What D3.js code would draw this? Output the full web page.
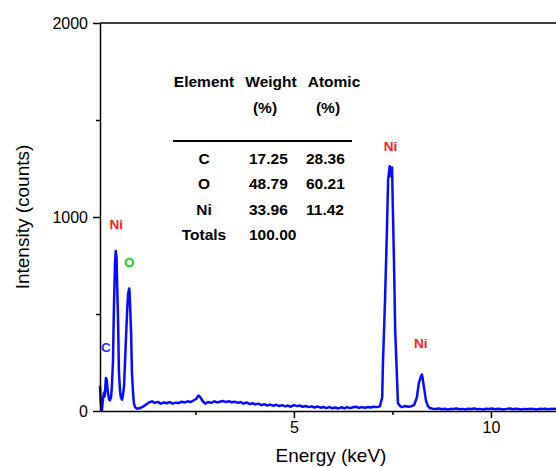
<!DOCTYPE html>
<html>
<head>
<meta charset="utf-8">
<script src="https://cdn.jsdelivr.net/npm/d3@7"></script>
<style>
  body { margin: 0; background: #fff; }
  svg { display: block; font-family: "Liberation Sans", Arial, sans-serif; }
</style>
</head>
<body>
<svg></svg>
<script>
const w = 556;
const h = 468;

// spectrum (keV, counts)
const energy = [
  0.08, 0.10, 0.13, 0.16, 0.18, 0.20, 0.23, 0.25, 0.28, 0.31, 0.33, 0.36, 0.38, 0.41, 0.43, 0.46,
  0.48, 0.50, 0.51, 0.54, 0.56, 0.59, 0.61, 0.64, 0.66, 0.69, 0.71, 0.74, 0.77, 0.79, 0.82, 0.83,
  0.84, 0.87, 0.89, 0.92, 0.94, 0.97, 1.02, 1.10, 1.17, 1.25, 1.32, 1.40, 1.47, 1.55, 1.62, 1.70,
  1.77, 1.85, 1.92, 2.00, 2.08, 2.15, 2.23, 2.30, 2.38, 2.45, 2.52, 2.58, 2.63, 2.68, 2.75, 2.82,
  2.90, 2.98, 3.05, 3.12, 3.20, 3.28, 3.35, 3.42, 3.50, 3.58, 3.65, 3.72, 3.80, 3.88, 3.95, 4.02,
  4.10, 4.18, 4.25, 4.32, 4.40, 4.48, 4.55, 4.62, 4.70, 4.78, 4.85, 4.92, 5.00, 5.08, 5.15, 5.22,
  5.30, 5.38, 5.45, 5.52, 5.60, 5.68, 5.75, 5.82, 5.90, 5.98, 6.05, 6.12, 6.20, 6.28, 6.35, 6.42,
  6.50, 6.58, 6.65, 6.72, 6.80, 6.88, 6.95, 7.02, 7.10, 7.18, 7.24, 7.26, 7.31, 7.36, 7.39, 7.43,
  7.46, 7.49, 7.51, 7.54, 7.57, 7.62, 7.64, 7.70, 7.75, 7.82, 7.90, 7.98, 8.05, 8.12, 8.17, 8.23,
  8.25, 8.28, 8.35, 8.40, 8.45, 8.52, 8.60, 8.68, 8.75, 8.82, 8.90, 8.98, 9.05, 9.12, 9.20, 9.28,
  9.35, 9.42, 9.50, 9.58, 9.65, 9.72, 9.80, 9.88, 9.95, 10.02, 10.10, 10.18, 10.25, 10.32, 10.40, 10.48,
  10.55, 10.62, 10.70, 10.78, 10.85, 10.92, 11.00, 11.08, 11.15, 11.22, 11.30, 11.38, 11.45, 11.52, 11.60, 11.68
];
const counts = [
  130, 40, 5, 70, 95, 75, 170, 160, 95, 60, 55, 72, 120, 260, 500, 760,
  825, 790, 700, 450, 200, 100, 70, 58, 78, 130, 230, 380, 520, 600, 632, 615,
  560, 400, 200, 90, 40, 20, 12, 15, 22, 34, 44, 50, 42, 47, 38, 44,
  40, 46, 38, 43, 41, 48, 44, 50, 46, 54, 62, 80, 70, 52, 38, 46,
  42, 50, 44, 48, 52, 46, 50, 45, 48, 42, 46, 38, 44, 36, 40, 34,
  38, 30, 35, 28, 33, 27, 32, 26, 30, 24, 28, 22, 30, 25, 28, 22,
  26, 20, 24, 18, 23, 17, 21, 15, 20, 14, 18, 13, 19, 14, 20, 15,
  19, 22, 16, 20, 17, 21, 18, 22, 20, 24, 70, 250, 560, 930, 1190, 1262,
  1210, 1255, 1050, 760, 415, 145, 40, 24, 20, 26, 22, 25, 30, 70, 145, 182,
  188, 150, 55, 25, 15, 12, 10, 13, 9, 12, 8, 11, 10, 13, 9, 11,
  8, 12, 10, 13, 9, 11, 8, 12, 10, 13, 9, 12, 10, 8, 11, 13,
  9, 12, 10, 8, 11, 9, 12, 10, 8, 11, 10, 12, 9, 11, 10, 12
];

// peak labels
const peakNames = ['C', 'Ni', 'O', 'Ni', 'Ni'];
const peakEnergy = [0.23, 0.49, 0.82, 7.45, 8.22];
const peakCount = [305, 938, 742, 1340, 325];
const peakColors = ['#2b2bff', '#ff1a1a', '#22cc22', '#ff1a1a', '#ff1a1a'];

// composition table
const elements = ['C', 'O', 'Ni', 'Totals'];
const weightPct = ['17.25', '48.79', '33.96', '100.00'];
const atomicPct = ['28.36', '60.21', '11.42', ''];

const xMajor = [5, 10];
const xMinor = [2.5, 7.5];
const yMajor = [0, 1000, 2000];
const yMinor = [500, 1500];

const svg = d3.select('svg')
    .attr('width', w)
    .attr('height', h);

const x = d3.scaleLinear().domain([0.08, 11.65]).range([100, 556]);
const y = d3.scaleLinear().domain([0, 2000]).range([411, 23]);

// spectrum
const data = energy.map((e, i) => [e, counts[i]]);
const line = d3.line().x(d => x(d[0])).y(d => y(d[1]));
svg.append('path')
    .datum(data)
    .attr('fill', 'none')
    .attr('stroke', '#0a0aff')
    .attr('stroke-width', 2.5)
    .attr('stroke-linejoin', 'round')
    .attr('d', line);

// axes
function styleAxis(g) {
    g.selectAll('path, line').attr('stroke', '#000').attr('stroke-width', 1.5);
    g.selectAll('text').attr('fill', '#000').attr('font-size', 16)
        .attr('font-family', '"Liberation Sans", Arial, sans-serif');
}

svg.append('g')
    .attr('transform', 'translate(0,411)')
    .call(d3.axisBottom(x).tickValues(xMajor).tickSize(7).tickSizeOuter(0).tickPadding(4).tickFormat(d3.format('d')))
    .call(styleAxis);
svg.append('g')
    .attr('transform', 'translate(0,411)')
    .call(d3.axisBottom(x).tickValues(xMinor).tickSize(4).tickFormat(''))
    .call(g => g.select('.domain').remove())
    .call(styleAxis);

svg.append('g')
    .attr('transform', 'translate(100,0)')
    .call(d3.axisLeft(y).tickValues(yMajor).tickSize(7).tickSizeOuter(0).tickPadding(5).tickFormat(d3.format('d')))
    .call(styleAxis);
svg.append('g')
    .attr('transform', 'translate(100,0)')
    .call(d3.axisLeft(y).tickValues(yMinor).tickSize(4).tickFormat(''))
    .call(g => g.select('.domain').remove())
    .call(styleAxis);

// top frame
svg.append('line')
    .attr('x1', 100).attr('x2', w)
    .attr('y1', y(2000)).attr('y2', y(2000))
    .attr('stroke', '#000').attr('stroke-width', 1.5);

// axis titles
svg.append('text')
    .attr('x', 331).attr('y', 462)
    .attr('text-anchor', 'middle')
    .attr('font-size', 19)
    .text('Energy (keV)');
svg.append('text')
    .attr('transform', 'translate(29,217) rotate(-90)')
    .attr('text-anchor', 'middle')
    .attr('font-size', 19)
    .text('Intensity (counts)');

// peak labels
svg.selectAll('.peak')
    .data(peakNames)
    .enter()
    .append('text')
    .attr('class', 'peak')
    .attr('x', (d, i) => x(peakEnergy[i]))
    .attr('y', (d, i) => y(peakCount[i]))
    .attr('text-anchor', 'middle')
    .attr('font-size', 13.5)
    .attr('font-weight', 'bold')
    .attr('fill', (d, i) => peakColors[i])
    .text(d => d);

// table
const tbl = svg.append('g')
    .attr('font-size', 15.5)
    .attr('font-weight', 'bold')
    .attr('fill', '#000');

tbl.append('text').attr('x', 204).attr('y', 87).attr('text-anchor', 'middle').text('Element');
tbl.append('text').attr('x', 271).attr('y', 87).attr('text-anchor', 'middle').text('Weight');
tbl.append('text').attr('x', 334).attr('y', 87).attr('text-anchor', 'middle').text('Atomic');
tbl.append('text').attr('x', 265).attr('y', 113).attr('text-anchor', 'middle').text('(%)');
tbl.append('text').attr('x', 328).attr('y', 113).attr('text-anchor', 'middle').text('(%)');

tbl.append('line')
    .attr('x1', 173).attr('x2', 352)
    .attr('y1', 141).attr('y2', 141)
    .attr('stroke', '#000').attr('stroke-width', 1.8);

const rowY = [164, 189, 215, 240];
elements.forEach((el, i) => {
    tbl.append('text').attr('x', 204).attr('y', rowY[i]).attr('text-anchor', 'middle').text(el);
    tbl.append('text').attr('x', 249).attr('y', rowY[i]).text(weightPct[i]);
    tbl.append('text').attr('x', 306).attr('y', rowY[i]).text(atomicPct[i]);
});
</script>
</body>
</html>
